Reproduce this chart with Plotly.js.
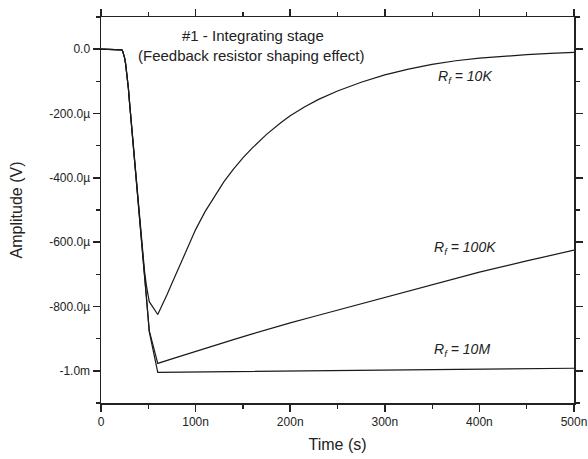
<!DOCTYPE html>
<html>
<head>
<meta charset="utf-8">
<script src="https://cdn.plot.ly/plotly-3.0.1.min.js"></script>
<style>html,body{margin:0;padding:0;background:#fff;}#chart{width:588px;height:459px;}</style>
</head>
<body>
<div id="chart"></div>
<script>
// Time in ns, amplitude in µV
const timeFall = [0,10,20,21,22,23,24,25,26,27,28,29,30,32,34,36,38,40,42,44];
const valueFall = [0,0,0,-0.5,-2,-7,-15,-28,-45,-66,-90,-123,-160,-225,-290,-355,-425,-495,-565,-635];

const time10K  = [46,48,51,60,65,70,75,80,85,90,100,110,120,130,140,150,160,175,190,200,215,230,250,275,300,325,350,375,400,425,450,475,500];
const rf10K    = [-690,-735,-785,-825,-795,-762,-728,-695,-660,-628,-561,-505,-458,-412,-373,-338,-307,-265,-229,-207,-180,-156,-130,-103,-80,-62,-47,-36,-28,-22,-17,-13,-10];

const time100K = [46,48,51,60,80,100,120,140,160,180,200,225,250,275,300,350,400,450,500];
const rf100K   = [-705,-770,-875,-977,-958,-939,-921,-903,-885,-867,-851,-831,-811,-791,-771,-731,-693,-658,-625];

const time10M  = [46,48,51,60,100,150,200,250,300,350,400,450,500];
const rf10M    = [-705,-772,-878,-1005,-1004,-1003,-1001,-1000,-998,-997,-995,-994,-992];

const xTickVals = [0,100,200,300,400,500];
const xTickText = ["0","100n","200n","300n","400n","500n"];
const yTickVals = [0,-200,-400,-600,-800,-1000];
const yTickText = ["0.0","-200.0µ","-400.0µ","-600.0µ","-800.0µ","-1.0m"];

const titleLines = ["#1 - Integrating stage","(Feedback resistor shaping effect)"];
const seriesLabels = ["<i>R<sub>f</sub> = 10K</i>","<i>R<sub>f</sub> = 100K</i>","<i>R<sub>f</sub> = 10M</i>"];

const lineStyle = {color:'#1a1a1a', width:1.2};
const series = [[time10K, rf10K],[time100K, rf100K],[time10M, rf10M]];
const traces = series.map(([t, v]) => ({
  x: timeFall.concat(t), y: valueFall.concat(v), type:'scatter', mode:'lines',
  line: lineStyle, showlegend:false, hoverinfo:'skip'
}));

const font = {family:'"Liberation Sans", Arial, Helvetica, sans-serif', color:'#222'};
const axisCommon = {
  showline:true, linecolor:'#222', linewidth:1.5, mirror:'allticks',
  ticks:'outside', ticklen:7, tickwidth:1.5, tickcolor:'#222',
  showgrid:false, zeroline:false, tickmode:'array',
  tickfont:{...font, size:12}
};

const layout = {
  width:588, height:459,
  margin:{l:101, r:14, t:17, b:56},
  paper_bgcolor:'#fff', plot_bgcolor:'#fff',
  font: font,
  xaxis: {...axisCommon, range:[0,500], tickvals:xTickVals, ticktext:xTickText,
    minor:{tickmode:'linear', tick0:0, dtick:50, ticks:'outside', ticklen:4, tickwidth:1.2, tickcolor:'#222'},
    title:{text:'Time (s)', font:{...font, size:16}, standoff:11}},
  yaxis: {...axisCommon, range:[-1100,100], tickvals:yTickVals, ticktext:yTickText,
    minor:{tickmode:'linear', tick0:0, dtick:100, ticks:'outside', ticklen:4, tickwidth:1.2, tickcolor:'#222'},
    title:{text:'Amplitude (V)', font:{...font, size:16}, standoff:22}},
  annotations: [
    {text:titleLines[0], xref:'paper', yref:'paper', x:0.322, y:0.953, xanchor:'center', yanchor:'middle', showarrow:false, font:{...font, size:15}},
    {text:titleLines[1], xref:'paper', yref:'paper', x:0.319, y:0.900, xanchor:'center', yanchor:'middle', showarrow:false, font:{...font, size:15}},
    {text:seriesLabels[0], xref:'paper', yref:'paper', x:0.709, y:0.845, xanchor:'left', yanchor:'middle', showarrow:false, font:{...font, size:14}},
    {text:seriesLabels[1], xref:'paper', yref:'paper', x:0.699, y:0.402, xanchor:'left', yanchor:'middle', showarrow:false, font:{...font, size:14}},
    {text:seriesLabels[2], xref:'paper', yref:'paper', x:0.700, y:0.137, xanchor:'left', yanchor:'middle', showarrow:false, font:{...font, size:14}}
  ]
};

Plotly.newPlot('chart', traces, layout, {displayModeBar:false, staticPlot:true});
</script>
</body>
</html>
